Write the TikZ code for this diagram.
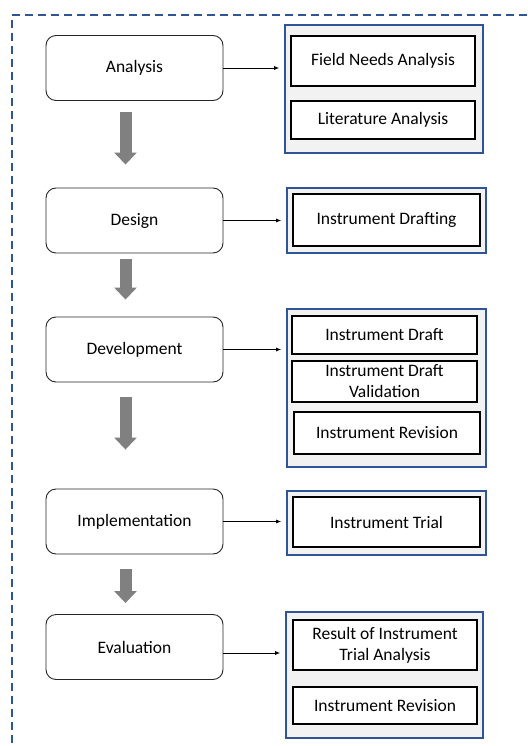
\documentclass[tikz,border=0pt]{standalone}
\usepackage{fontspec}
\setmainfont{Carlito}
\usetikzlibrary{arrows.meta}
\definecolor{frameblue}{RGB}{47,85,151}
\definecolor{groupfill}{RGB}{242,242,242}
\begin{document}
\begin{tikzpicture}[
    x=1pt, y=-1pt,
    every node/.style={font=\fontsize{17.5}{21}\selectfont},
    phase/.style={rectangle, draw=black!85, line width=0.9pt, rounded corners=10pt, fill=white, minimum width=177pt, minimum height=65pt, inner sep=0pt, align=center},
    group/.style={rectangle, draw=frameblue, line width=1.6pt, fill=groupfill, inner sep=0pt},
    task/.style={rectangle, draw=black, line width=2pt, fill=white, inner sep=0pt, align=center},
    link/.style={-{Latex[length=5pt,width=4pt]}, line width=0.8pt, shorten >=5pt},
    flow/.style={-{Triangle[width=22pt,length=12pt]}, line width=12pt, draw=gray}
]
\useasboundingbox (0,0) rectangle (527,746);

% Dashed outer frame
\draw[frameblue, line width=1.6pt, dash pattern=on 8pt off 5pt] (527,15) -- (12,15) -- (12,746);

% Phase boxes on the left
\node[phase] (ana) at (134.5,68) {Analysis};
\node[phase] (des) at (134.5,220.5) {Design};
\node[phase] (dev) at (134.5,349.5) {Development};
\node[phase] (imp) at (134.5,521.5) {Implementation};
\node[phase] (eva) at (134.5,647) {Evaluation};

% Output groups on the right
\node[group, minimum width=198pt, minimum height=128pt] (g1) at (384,89) {};
\node[group, minimum width=199pt, minimum height=65pt] (g2) at (386.5,220.5) {};
\node[group, minimum width=199pt, minimum height=158pt] (g3) at (386.5,388) {};
\node[group, minimum width=199pt, minimum height=64pt] (g4) at (386.5,523) {};
\node[group, minimum width=197pt, minimum height=126pt] (g5) at (384.5,675) {};

% Tasks inside the groups
\node[task, minimum width=184pt, minimum height=50pt] (fna) at (383,61) {Field Needs Analysis};
\node[task, minimum width=184pt, minimum height=38pt] (lit) at (383,120) {Literature Analysis};
\node[task, minimum width=187pt, minimum height=52pt] (drf) at (386.5,220) {Instrument Drafting};
\node[task, minimum width=185pt, minimum height=38pt] (idr) at (384.5,335) {Instrument Draft};
\node[task, minimum width=185pt, minimum height=41pt] (val) at (384.5,381.5) {Instrument Draft\\Validation};
\node[task, minimum width=186pt, minimum height=42pt] (rv1) at (387,433) {Instrument Revision};
\node[task, minimum width=187pt, minimum height=50pt] (tri) at (386.5,522) {Instrument Trial};
\node[task, minimum width=184pt, minimum height=50pt] (res) at (385,645) {Result of Instrument\\Trial Analysis};
\node[task, minimum width=184pt, minimum height=37pt] (rv2) at (385,705.5) {Instrument Revision};

% Links from phases to groups
\draw[link] (ana.east) -- (ana.east -| g1.west);
\draw[link] (des.east) -- (des.east -| g2.west);
\draw[link] (dev.east) -- (dev.east -| g3.west);
\draw[link] (imp.east) -- (imp.east -| g4.west);
\draw[link] ([yshift=-6pt]eva.east) -- ([yshift=-6pt]eva.east -| g5.west);

% Gray flow arrows between phases
\draw[flow] ([xshift=-9pt,yshift=-11pt]ana.south) -- ([xshift=-9pt,yshift=23pt]des.north);
\draw[flow] ([xshift=-9pt,yshift=-6pt]des.south) -- ([xshift=-9pt,yshift=17pt]dev.north);
\draw[flow] ([xshift=-9pt,yshift=-15pt]dev.south) -- ([xshift=-9pt,yshift=39pt]imp.north);
\draw[flow] ([xshift=-9pt,yshift=-15pt]imp.south) -- ([xshift=-9pt,yshift=11pt]eva.north);
\end{tikzpicture}
\end{document}
